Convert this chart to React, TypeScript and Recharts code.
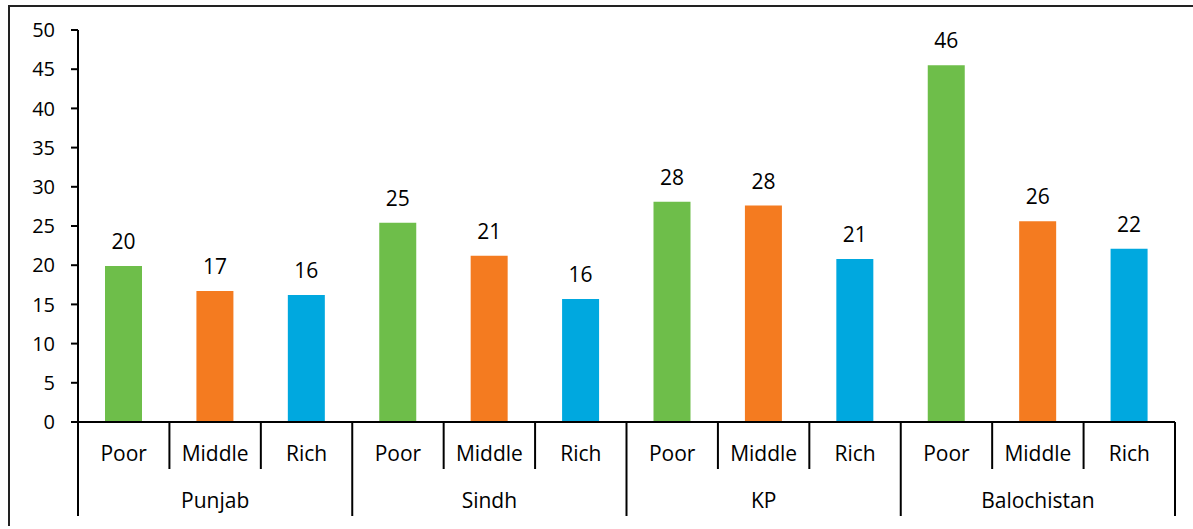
import React from "react";
import { BarChart, Bar, XAxis, YAxis, Cell, LabelList } from "recharts";

const regions = ["Punjab", "Sindh", "KP", "Balochistan"];
const classes = ["Poor", "Middle", "Rich"];
const poorValues = [19.9, 25.4, 28.1, 45.5];
const middleValues = [16.7, 21.2, 27.6, 25.6];
const richValues = [16.2, 15.7, 20.8, 22.1];
const classColors = ["#6EBE4A", "#F47B20", "#00A8DF"];
const yTicks = [0, 5, 10, 15, 20, 25, 30, 35, 40, 45, 50];

const seriesByClass = [poorValues, middleValues, richValues];
const data = regions.flatMap((region, r) =>
  classes.map((cls, c) => ({
    region,
    cls,
    classIndex: c,
    value: seriesByClass[c][r],
  }))
);

const CHART_W = 1183;
const CHART_H = 519;
const MARGIN = { top: 23, right: 18, left: 0, bottom: 0 };
const Y_W = 68;
const X_H = 104;
const FONT = "'Open Sans', sans-serif";
const BAND = (CHART_W - MARGIN.left - MARGIN.right - Y_W) / data.length;

const CategoryTick = (props: any) => {
  const { x, y, payload } = props;
  const i = payload.index;
  const item = data[i];
  const left = x - BAND / 2;
  const right = x + BAND / 2;
  const groupStart = i % classes.length === 0;
  const isLast = i === data.length - 1;
  return (
    <g>
      <line
        x1={left}
        x2={left}
        y1={y}
        y2={y + (groupStart ? 94 : 47)}
        stroke="#000"
        strokeWidth={2}
      />
      {isLast && (
        <line x1={right} x2={right} y1={y} y2={y + 94} stroke="#000" strokeWidth={2} />
      )}
      <text
        x={x}
        y={y + 39}
        textAnchor="middle"
        fontFamily={FONT}
        fontSize={21}
        fill="#000"
      >
        {item.cls}
      </text>
      {i % classes.length === 1 && (
        <text
          x={x}
          y={y + 86}
          textAnchor="middle"
          fontFamily={FONT}
          fontSize={21}
          fill="#000"
        >
          {item.region}
        </text>
      )}
    </g>
  );
};

export default function App() {
  return (
    <div
      style={{
        position: "fixed",
        left: 8,
        top: 5,
        width: CHART_W,
        height: CHART_H,
        borderTop: "2px solid #222",
        borderLeft: "2px solid #222",
        background: "#fff",
      }}
    >
      <BarChart width={CHART_W} height={CHART_H} data={data} margin={MARGIN}>
        <XAxis
          dataKey="cls"
          height={X_H}
          interval={0}
          tickLine={false}
          tickSize={0}
          tickMargin={0}
          axisLine={{ stroke: "#000", strokeWidth: 2 }}
          tick={<CategoryTick />}
        />
        <YAxis
          width={Y_W}
          domain={[0, 50]}
          ticks={yTicks}
          interval={0}
          tickSize={7}
          tickMargin={16}
          axisLine={{ stroke: "#000", strokeWidth: 2 }}
          tickLine={{ stroke: "#000", strokeWidth: 2 }}
          tick={{ fontFamily: FONT, fontSize: 20, fill: "#000" }}
        />
        <Bar dataKey="value" barSize={37} isAnimationActive={false}>
          {data.map((d, i) => (
            <Cell key={i} fill={classColors[d.classIndex]} />
          ))}
          <LabelList
            dataKey="value"
            position="top"
            offset={17}
            formatter={(v: any) => Math.round(Number(v))}
            style={{ fontFamily: FONT, fontSize: 21, fill: "#000" }}
          />
        </Bar>
      </BarChart>
    </div>
  );
}
